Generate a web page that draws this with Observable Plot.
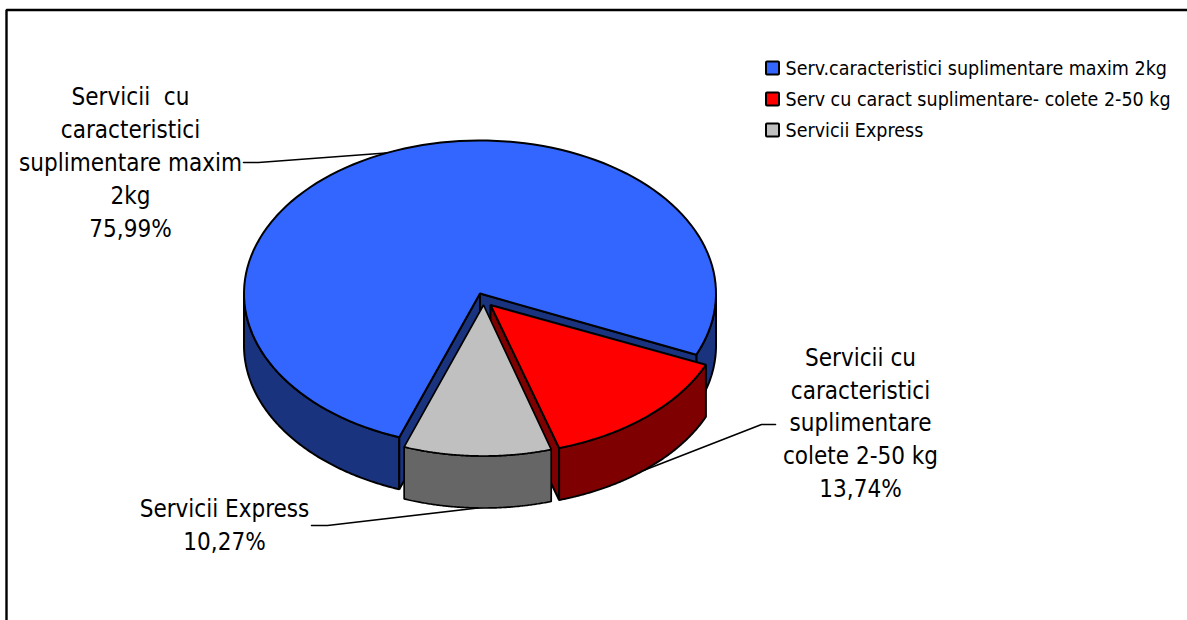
<!DOCTYPE html>
<html><head><meta charset="utf-8">
<script src="https://cdn.jsdelivr.net/npm/d3@7"></script>
<script src="https://cdn.jsdelivr.net/npm/@observablehq/plot@0.6"></script>
<style>html,body{margin:0;padding:0;background:#fff}svg{display:block}</style>
</head><body><div id="chart"></div>
<script>
// Data
const categories = ["Serv.caracteristici suplimentare maxim 2kg", "Serv cu caract suplimentare- colete 2-50 kg", "Servicii Express"];
const shares = [75.99, 13.74, 10.27];
const sliceLabels = [
  "Servicii  cu\ncaracteristici\nsuplimentare maxim\n2kg\n75,99%",
  "Servicii cu\ncaracteristici\nsuplimentare\ncolete 2-50 kg\n13,74%",
  "Servicii Express\n10,27%"
];
// Styles and layout
const topColors = ["#3366FF", "#FF0000", "#C0C0C0"];
const wallColors = ["#1A337F", "#7F0000", "#666666"];
const W = 1187, H = 620, FONT = "'DejaVu Sans Condensed','DejaVu Sans'";
const startAngle = 200, depth = 52;
const discs = [
  {cx: 479.5, cy: 293, rx: 236, ry: 153},
  {cx: 490, cy: 304.5, rx: 235, ry: 149.5},
  {cx: 483, cy: 304.5, rx: 232, ry: 151}
];
const labelAnchors = [{x: 130, y: 160}, {x: 860, y: 420.5}, {x: 224, y: 522.5}];
const leaders = [
  [[243,162],[258,162],[392,152]],
  [[775,424],[761,424],[630,475]],
  [[311,525],[327,525],[490,506]]
];
const legendY = [68, 99, 130];

// Geometry derived from the shares
const spans = [];
let a0 = startAngle;
for (const s of shares) { spans.push([a0, a0 + s * 3.6]); a0 += s * 3.6; }
const pt = (d, deg, dz = 0) => {
  const t = deg * Math.PI / 180;
  return [d.cx + d.rx * Math.sin(t), d.cy - d.ry * Math.cos(t) + dz];
};
const arc = (d, a, b, dz = 0) => d3.range(0, 121).map(i => pt(d, a + (b - a) * i / 120, dz));
const topPoly = i => [[discs[i].cx, discs[i].cy], ...arc(discs[i], spans[i][0], spans[i][1])];
const sideWall = (i, deg) => [[discs[i].cx, discs[i].cy], pt(discs[i], deg), pt(discs[i], deg, depth), [discs[i].cx, discs[i].cy + depth]];
const outerWall = (i, a, b) => [...arc(discs[i], a, b), ...arc(discs[i], b, a, depth)];
const poly = (pts, fill, sw = 2) => Plot.line(pts, {x: d => d[0], y: d => d[1], fill, stroke: "#000", strokeWidth: sw, curve: "linear-closed", strokeLinejoin: "miter"});

const marks = [
  // Frame
  Plot.line([[6, H], [6, 9.5], [W, 9.5]], {x: d => d[0], y: d => d[1], stroke: "#000", strokeWidth: 2.4, strokeLinejoin: "miter"}),
  // Leader lines under the pie
  ...leaders.map(l => Plot.line(l, {x: d => d[0], y: d => d[1], stroke: "#000", strokeWidth: 1.6})),
  // Large slice
  poly(outerWall(0, spans[0][0], 270), wallColors[0]),
  poly(outerWall(0, 450, spans[0][1]), wallColors[0]),
  poly(sideWall(0, spans[0][0]), wallColors[0]),
  poly(sideWall(0, spans[0][1]), wallColors[0]),
  poly(topPoly(0), topColors[0]),
  // Middle slice
  poly(sideWall(1, spans[1][1]), wallColors[1]),
  poly(outerWall(1, spans[1][0], spans[1][1]), wallColors[1]),
  poly(topPoly(1), topColors[1]),
  // Small slice
  poly(outerWall(2, spans[2][0], spans[2][1]), wallColors[2], 1.7),
  poly(topPoly(2), topColors[2], 1.7),
  // Slice labels
  Plot.text(sliceLabels.map((t, i) => ({t, ...labelAnchors[i]})), {x: "x", y: "y", text: "t", fontSize: 24, lineHeight: 1.365, fontFamily: FONT, fill: "#000", textAnchor: "middle"}),
  // Legend
  Plot.rect(categories.map((c, i) => ({c, i})), {x1: () => 766, x2: () => 779, y1: d => legendY[d.i] - 6.5, y2: d => legendY[d.i] + 6.5, fill: d => topColors[d.i], stroke: "#000", strokeWidth: 2, rx: 1, inset: 0}),
  Plot.text(categories.map((c, i) => ({c, i})), {x: () => 785, y: d => legendY[d.i], text: "c", fontSize: 19.5, fontFamily: FONT, fill: "#000", textAnchor: "start"})
];

const chart = Plot.plot({
  width: W, height: H, margin: 0,
  x: {type: "linear", domain: [0, W], range: [0, W], axis: null},
  y: {type: "linear", domain: [0, H], range: [0, H], axis: null},
  marks
});
document.getElementById("chart").appendChild(chart);
</script></body></html>
